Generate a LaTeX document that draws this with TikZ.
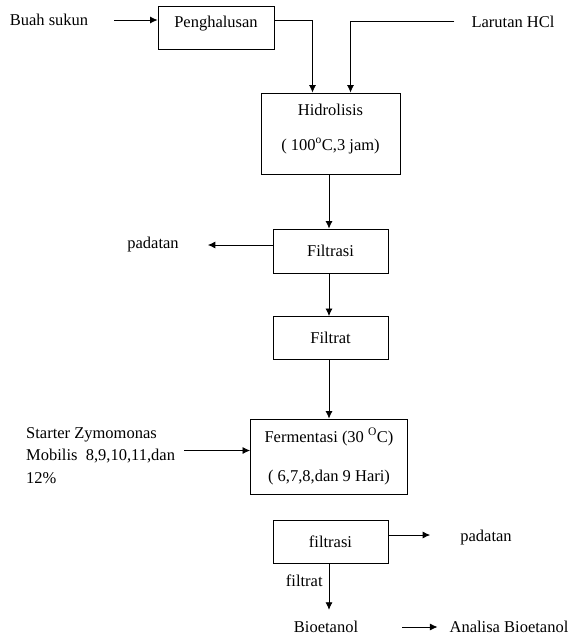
\documentclass[tikz,border=0pt]{standalone}
\usepackage{fontspec}
\setmainfont{Liberation Serif}
\usetikzlibrary{arrows.meta}
\begin{document}
\begin{tikzpicture}[x=1pt,y=-1pt,
  every node/.style={font=\fontsize{16.5}{18}\selectfont},
  box/.style={draw,line width=0.9pt,inner sep=0pt,align=center},
  txt/.style={inner sep=0pt},
  arr/.style={line width=0.8pt,-{Latex[length=7.5pt,width=7pt]}},
  ln/.style={line width=0.8pt}]
\useasboundingbox (0,0) rectangle (568,640);
% nodes
\node[txt] (buah) at (49,20) {Buah sukun};
\node[box,minimum width=116pt,minimum height=43pt] (peng) at (216,27.5) {Penghalusan\\[-6pt]};
\node[txt] (hcl) at (513,22) {Larutan HCl};
\node[box,minimum width=139pt,minimum height=81pt] (hid) at (330.5,133.5)
  {Hidrolisis\\[17pt]( 100\textsuperscript{o}C,3 jam)\\[-5pt]};
\node[box,minimum width=115pt,minimum height=44pt] (fil1) at (330.5,251) {Filtrasi};
\node[txt] (pad1) at (153,245) {padatan};
\node[box,minimum width=115pt,minimum height=43pt] (fil2) at (330.5,338) {Filtrat};
\node[box,minimum width=157pt,minimum height=75pt] (ferm) at (329,456.5)
  {Fermentasi (30 \textsuperscript{O}C)\\[21pt]( 6,7,8,dan 9 Hari)};
\node[txt,anchor=west,align=left,font=\fontsize{16.5}{22.5}\selectfont] (start) at (26,455.5)
  {Starter Zymomonas\\Mobilis\ \ 8,9,10,11,dan\\12\%};
\node[box,minimum width=115pt,minimum height=43pt] (filt) at (330.5,542) {filtrasi};
\node[txt] (pad2) at (486,538) {padatan};
\node[txt,minimum height=34pt] (bio) at (326,627) {Bioetanol};
\node[txt] (ana) at (509,627) {Analisa Bioetanol};
% connectors
\draw[arr,shorten <=26pt] (buah.east) -- ([yshift=7.5pt]peng.west);
\draw[arr] ([yshift=7.5pt]peng.east) -| ([xshift=-18pt]hid.north);
\draw[arr,shorten <=17pt] ([yshift=1pt]hcl.west) -| ([xshift=20pt]hid.north);
\draw[arr] ([xshift=-1.5pt]hid.south) -- ([xshift=-1.5pt]fil1.north);
\draw[arr,shorten >=29pt] ([yshift=6pt]fil1.west) -- (pad1.east);
\draw[arr] ([xshift=-1.5pt]fil1.south) -- ([xshift=-1.5pt]fil2.north);
\draw[arr] ([xshift=-1.5pt]fil2.south) -- (ferm.north);
\draw[arr,shorten <=9pt] ([yshift=5pt]start.east) -- ([yshift=5pt]start.east -| ferm.west);
\draw[arr,shorten >=30pt] ([yshift=7pt]filt.east) -- ([yshift=3pt]pad2.west);
\draw[arr] ([xshift=-1.5pt]filt.south) -- node[txt,left=6pt,yshift=6pt] (lab) {filtrat} ([xshift=-1.5pt]filt.south |- bio.north);
\draw[arr,shorten <=44pt,shorten >=12pt] (bio.east) -- (ana.west);
\end{tikzpicture}
\end{document}
